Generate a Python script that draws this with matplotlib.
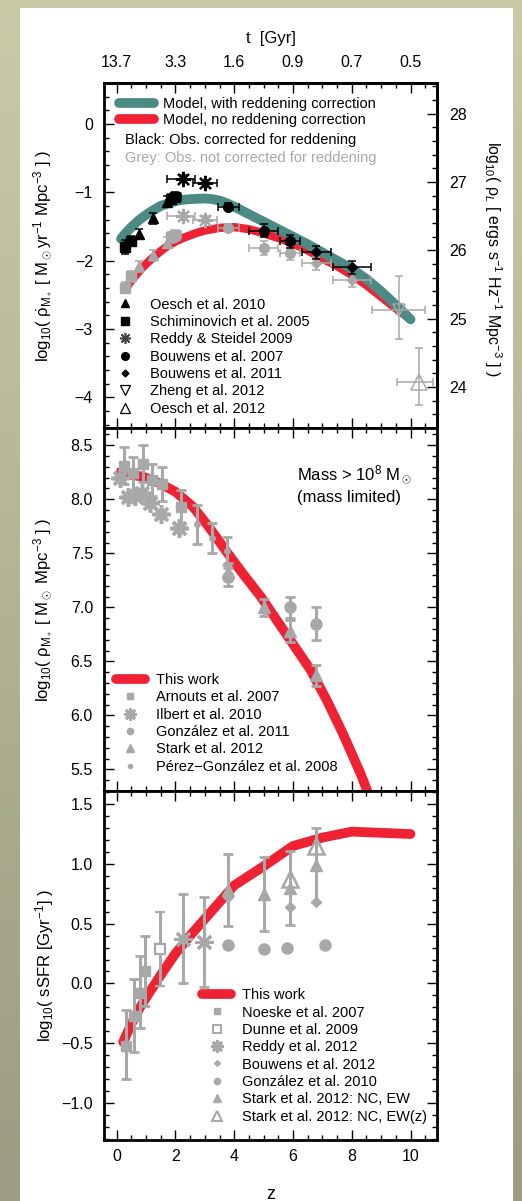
import numpy as np
import matplotlib.pyplot as plt
from matplotlib.lines import Line2D
from matplotlib.patches import Rectangle
from matplotlib.ticker import MultipleLocator
from matplotlib.colors import LinearSegmentedColormap

plt.rcParams['font.family'] = ['Liberation Sans', 'DejaVu Sans']
plt.rcParams['mathtext.fontset'] = 'custom'
plt.rcParams['mathtext.rm'] = 'Liberation Sans'
plt.rcParams['mathtext.it'] = 'Liberation Sans:italic'
plt.rcParams['mathtext.bf'] = 'Liberation Sans:bold'

TEAL = '#4b8a85'
RED = '#ee2233'
GREY = '#a8a8a8'

# ---- top panel: star formation rate density ----
z_teal = [0.15, 0.3, 0.5, 0.75, 1.0, 1.25, 1.5, 1.75, 2.0, 2.25, 2.5, 3.0, 3.25, 3.5, 3.75, 4.0,
          4.5, 5.0, 5.5, 6.0, 6.5, 7.0, 7.5, 8.0, 8.5, 9.0, 9.5, 10.0]
sfr_teal = [-1.68, -1.60, -1.51, -1.41, -1.33, -1.26, -1.20, -1.16, -1.13, -1.11, -1.10, -1.09,
            -1.10, -1.12, -1.16, -1.21, -1.32, -1.43, -1.54, -1.65, -1.76, -1.88, -2.00, -2.12,
            -2.27, -2.45, -2.65, -2.86]
z_red = [0.3, 0.45, 0.6, 0.8, 1.0, 1.25, 1.5, 1.75, 2.0, 2.25, 2.5, 2.75, 3.0, 3.25, 3.5, 4.0,
         4.5, 5.0, 5.5, 6.0, 6.5, 7.0, 7.5, 8.0, 8.5, 9.0, 9.5, 10.0]
sfr_red = [-2.42, -2.32, -2.24, -2.14, -2.05, -1.95, -1.86, -1.78, -1.72, -1.67, -1.63, -1.59,
           -1.56, -1.54, -1.52, -1.51, -1.54, -1.60, -1.67, -1.75, -1.85, -1.97, -2.08, -2.21,
           -2.36, -2.53, -2.70, -2.86]

oesch10_z = [0.75, 1.25, 1.72]
oesch10_corr = [-1.61, -1.38, -1.14]
oesch10_raw = [-2.08, -1.92, -1.74]
schim05_z = [0.27, 0.48, 1.85, 2.0]
schim05_corr = [-1.80, -1.71, -1.10, -1.07]
schim05_raw = [-2.40, -2.23, -1.66, -1.63]
reddy09_z = [2.27, 3.02]
reddy09_zlo = [0.57, 0.41]
reddy09_zhi = [0.40, 0.39]
reddy09_corr = [-0.80, -0.87]
reddy09_raw = [-1.35, -1.40]
bouw07_z = [3.8, 5.0, 5.9]
bouw07_zerr = [0.35, 0.5, 0.35]
bouw07_corr = [-1.21, -1.56, -1.72]
bouw07_raw = [-1.52, -1.82, -1.89]
bouw07_err = [0.05, 0.1, 0.1]
bouw11_z = [6.8, 8.0]
bouw11_zerr = [0.5, 0.65]
bouw11_corr = [-1.88, -2.10]
bouw11_raw = [-2.04, -2.29]
zheng12_z, zheng12_v = [9.6], [-2.73]
zheng12_verr = [[0.41], [0.51]]
zheng12_zerr = [[0.9], [0.9]]
oesch12_z, oesch12_v = [10.3], [-3.77]
oesch12_verr = [[0.34], [0.49]]
oesch12_zerr = [[0.75], [0.45]]

t_ticks = [0, 2, 4, 6, 8, 10]
t_labels = ['13.7', '3.3', '1.6', '0.9', '0.7', '0.5']

# ---- middle panel: stellar mass density ----
z_mass = [0.15, 0.9, 1.45, 2.0, 2.6, 3.15, 3.7, 4.3, 4.9, 5.45, 6.0, 6.6, 7.15, 7.7, 8.3, 8.6]
rho_mass = [8.24, 8.21, 8.15, 8.07, 7.93, 7.74, 7.53, 7.31, 7.10, 6.88, 6.66, 6.42, 6.14, 5.83, 5.46, 5.25]
arn_z = [0.25, 0.55, 0.88, 1.2, 1.55, 2.2]
arn_v = [8.31, 8.24, 8.33, 8.18, 8.14, 7.93]
arn_e = [0.17, 0.15, 0.17, 0.15, 0.16, 0.16]
ilb_z = [0.1, 0.38, 0.62, 0.85, 1.12, 1.5, 2.12]
ilb_v = [8.20, 8.02, 8.03, 8.06, 7.97, 7.86, 7.73]
gon11_z = [3.8, 5.9, 6.8]
gon11_v = [7.28, 7.00, 6.85]
gon11_e = [0.08, 0.1, 0.15]
stk_z = [3.8, 5.0, 5.9, 6.8]
stk_v = [7.33, 7.00, 6.78, 6.37]
stk_e = [0.08, 0.08, 0.1, 0.1]
pg_z = [2.75, 3.25, 3.75]
pg_v = [7.77, 7.64, 7.52]
pg_e = [0.18, 0.14, 0.13]

# ---- bottom panel: specific star formation rate ----
z_ssfr = [0.22, 0.5, 0.75, 1.0, 1.5, 2.0, 2.5, 3.0, 3.5, 4.0, 5.0, 6.0, 7.0, 8.0, 9.0, 10.0]
ssfr = [-0.49, -0.34, -0.22, -0.12, 0.07, 0.25, 0.40, 0.54, 0.68, 0.82, 0.98, 1.15, 1.22, 1.27, 1.26, 1.25]
noe_z = [0.31, 0.58, 0.79, 0.96]
noe_v = [-0.52, -0.27, -0.08, 0.10]
noe_e = [[0.28, 0.30, 0.29, 0.29], [0.30, 0.31, 0.31, 0.30]]
dun_z, dun_v, dun_e = [1.47], [0.29], [0.31]
red12_z = [2.27, 2.96]
red12_v = [0.37, 0.35]
red12_e = [[0.37, 0.38], [0.38, 0.37]]
bw12_z = [3.8, 5.9, 6.8]
bw12_v = [0.72, 0.64, 0.68]
gon10_z = [3.8, 5.0, 5.8, 7.1]
gon10_v = [0.32, 0.29, 0.30, 0.32]
stkew_z = [3.8, 5.0, 5.9, 6.8]
stkew_v = [0.78, 0.75, 0.80, 0.99]
stkew_e = [0.30, 0.31, 0.31, 0.31]
stkewz_z = [5.9, 6.8]
stkewz_v = [0.87, 1.15]

fig = plt.figure(figsize=(5.22, 12.01), dpi=100)

# page background
bg = fig.add_axes([0, 0, 1, 1], zorder=-10)
bg_cmap = LinearSegmentedColormap.from_list('bg', ['#9b9c81', '#c9cba7'])
bg.imshow(np.linspace(0, 1, 256).reshape(-1, 1), aspect='auto', cmap=bg_cmap,
          extent=[0, 1, 0, 1], origin='lower')
bg.axis('off')
fig.patches.append(Rectangle((20 / 522, 0), 493 / 522, 1193 / 1201, transform=fig.transFigure,
                             facecolor='white', edgecolor='none', zorder=-5))

L, W = 104 / 522, 333 / 522
ax1 = fig.add_axes([L, 1 - 428 / 1201, W, 345 / 1201])
ax2 = fig.add_axes([L, 1 - 791 / 1201, W, 363 / 1201])
ax3 = fig.add_axes([L, 1 - 1140 / 1201, W, 349 / 1201])

for ax in (ax1, ax2, ax3):
    ax.set_xlim(-0.43, 10.9)
    ax.xaxis.set_major_locator(MultipleLocator(2))
    ax.xaxis.set_minor_locator(MultipleLocator(0.5))
    ax.tick_params(which='both', direction='in', top=True, right=True, labelsize=11.5, width=1)
    ax.tick_params(which='major', length=7)
    ax.tick_params(which='minor', length=3.5)
    ax.tick_params(axis='y', pad=8)
    ax.tick_params(axis='x', pad=6.5)
    for sp in ax.spines.values():
        sp.set_linewidth(2)

# top panel
ax1.set_ylim(-4.45, 0.6)
ax1.yaxis.set_major_locator(MultipleLocator(1))
ax1.yaxis.set_minor_locator(MultipleLocator(0.2))
ax1.tick_params(which='both', right=False, top=False, labelbottom=False)
ax1.plot(z_red, sfr_red, color=RED, lw=6, solid_capstyle='round', solid_joinstyle='round', zorder=2)
ax1.plot(z_teal, sfr_teal, color=TEAL, lw=7, solid_capstyle='round', solid_joinstyle='round', zorder=3)

ekw = dict(elinewidth=1.1, capsize=3, capthick=1.1, ls='none')
ax1.errorbar(oesch10_z, oesch10_raw, yerr=0.08, fmt='^', color=GREY, ms=7, zorder=4, **ekw)
ax1.errorbar(schim05_z, schim05_raw, yerr=0.08, xerr=[[0, 0, 0.15, 0.1], [0, 0, 0.1, 0.2]],
             fmt='s', color=GREY, ms=7, zorder=4, **ekw)
ax1.errorbar(reddy09_z, reddy09_raw, yerr=0.05, xerr=[reddy09_zlo, reddy09_zhi],
             fmt='none', ecolor=GREY, zorder=4, **ekw)
ax1.plot(reddy09_z, reddy09_raw, ls='none', marker=(8, 2, 0), ms=11, mew=1.6, color=GREY, zorder=4)
ax1.errorbar(bouw07_z, bouw07_raw, yerr=bouw07_err, xerr=bouw07_zerr, fmt='o', color=GREY, ms=7, zorder=4, **ekw)
ax1.errorbar(bouw11_z, bouw11_raw, yerr=0.09, xerr=bouw11_zerr, fmt='D', color=GREY, ms=5, zorder=4, **ekw)
ax1.errorbar(zheng12_z, zheng12_v, yerr=zheng12_verr, xerr=zheng12_zerr, fmt='v', color=GREY,
             mfc='none', ms=8, mew=1.1, zorder=4, **ekw)
ax1.errorbar(oesch12_z, oesch12_v, yerr=oesch12_verr, xerr=oesch12_zerr, fmt='^', color=GREY,
             mfc='none', ms=11, mew=1.1, zorder=4, **ekw)

ax1.errorbar(oesch10_z, oesch10_corr, yerr=0.08, fmt='^', color='k', ms=7, zorder=5, **ekw)
ax1.errorbar(schim05_z, schim05_corr, yerr=[0.1, 0.07, 0.07, 0.07], xerr=[[0, 0, 0.15, 0.1], [0, 0, 0.1, 0.2]],
             fmt='s', color='k', ms=7, zorder=5, **ekw)
ax1.errorbar(reddy09_z, reddy09_corr, yerr=0.05, xerr=[reddy09_zlo, reddy09_zhi],
             fmt='none', ecolor='k', zorder=5, **ekw)
ax1.plot(reddy09_z, reddy09_corr, ls='none', marker=(8, 2, 0), ms=11, mew=1.6, color='k', zorder=5)
ax1.errorbar(bouw07_z, bouw07_corr, yerr=bouw07_err, xerr=bouw07_zerr, fmt='o', color='k', ms=7, zorder=5, **ekw)
ax1.errorbar(bouw11_z, bouw11_corr, yerr=0.09, xerr=bouw11_zerr, fmt='D', color='k', ms=5, zorder=5, **ekw)

ax1.set_ylabel(r'log$_{10}$( $\dot{\mathrm{\rho}}_{\mathrm{M}_\ast}$ [ M$_\odot$yr$^{-1}$ Mpc$^{-3}$ ] )',
               fontsize=12)
ax1.yaxis.set_label_coords(-0.145, 0.5)

top = ax1.secondary_xaxis('top')
top.set_xticks(t_ticks)
top.set_xticklabels(t_labels)
top.xaxis.set_minor_locator(MultipleLocator(0.5))
top.tick_params(which='both', direction='in', labelsize=11.5, width=1, pad=9)
top.tick_params(which='major', length=7)
top.tick_params(which='minor', length=3.5)
top.spines['top'].set_linewidth(2)
top.set_xlabel('t  [Gyr]', fontsize=12, labelpad=9)

lum = ax1.secondary_yaxis('right', functions=(lambda y: y + 27.85, lambda y: y - 27.85))
lum.yaxis.set_major_locator(MultipleLocator(1))
lum.yaxis.set_minor_locator(MultipleLocator(0.2))
lum.tick_params(which='both', direction='in', labelsize=11.5, width=1, pad=9)
lum.tick_params(which='major', length=7)
lum.tick_params(which='minor', length=3.5)
lum.spines['right'].set_linewidth(2)
ax1.text(1.135, 0.49, r'log$_{10}$( $\mathrm{\rho}_L$ [ ergs s$^{-1}$ Hz$^{-1}$ Mpc$^{-3}$ ] )',
         transform=ax1.transAxes, fontsize=11.5, rotation=-90, ha='left', va='center')

leg_kw = dict(frameon=False, fontsize=10.5, borderpad=0, borderaxespad=0, labelspacing=0.23)
model_leg = ax1.legend(handles=[Line2D([], [], color=TEAL, lw=7, solid_capstyle='round'),
                                Line2D([], [], color=RED, lw=7, solid_capstyle='round')],
                       labels=['Model, with reddening correction', 'Model, no reddening correction'],
                       loc='upper left', bbox_to_anchor=(0.045, 0.958), handlelength=2.4,
                       handletextpad=0.65, frameon=False, fontsize=10.5, borderpad=0,
                       borderaxespad=0, labelspacing=0.12)
ax1.add_artist(model_leg)
ax1.text(0.063, 0.835, 'Black: Obs. corrected for reddening', transform=ax1.transAxes,
         fontsize=10.5, va='center', color='k')
ax1.text(0.063, 0.783, 'Grey: Obs. not corrected for reddening', transform=ax1.transAxes,
         fontsize=10.5, va='center', color=GREY)

obs_handles = [
    Line2D([], [], ls='none', marker='^', color='k', ms=6),
    Line2D([], [], ls='none', marker='s', color='k', ms=5.5),
    Line2D([], [], ls='none', marker=(8, 2, 0), color='#444444', ms=8, mew=1.2),
    Line2D([], [], ls='none', marker='o', color='k', ms=5.5),
    Line2D([], [], ls='none', marker='D', color='k', ms=3.5),
    Line2D([], [], ls='none', marker='v', color='k', mfc='none', ms=6.5, mew=0.9),
    Line2D([], [], ls='none', marker='^', color='k', mfc='none', ms=6.5, mew=0.9),
]
obs_labels = ['Oesch et al. 2010', 'Schiminovich et al. 2005', 'Reddy & Steidel 2009',
              'Bouwens et al. 2007', 'Bouwens et al. 2011', 'Zheng et al. 2012', 'Oesch et al. 2012']
ax1.legend(handles=obs_handles, labels=obs_labels, loc='upper left', bbox_to_anchor=(0.041, 0.378),
           handlelength=1.0, handletextpad=1.25, **leg_kw)

# middle panel
ax2.set_ylim(5.3, 8.66)
ax2.yaxis.set_major_locator(MultipleLocator(0.5))
ax2.yaxis.set_minor_locator(MultipleLocator(0.1))
ax2.tick_params(labelbottom=False)
ax2.plot(z_mass, rho_mass, color=RED, lw=7, solid_joinstyle='round', zorder=2)
gkw = dict(ls='none', color=GREY, elinewidth=2.2, capsize=3.5, capthick=2)
ax2.errorbar(arn_z, arn_v, yerr=arn_e, fmt='s', ms=7, zorder=4, **gkw)
ax2.plot(ilb_z, ilb_v, ls='none', marker=(8, 2, 0), ms=13, mew=2.6, color=GREY, zorder=4)
ax2.errorbar(gon11_z, gon11_v, yerr=gon11_e, fmt='o', ms=8, zorder=4, **gkw)
ax2.errorbar(stk_z, stk_v, yerr=stk_e, fmt='^', ms=8.5, zorder=4, **gkw)
ax2.errorbar(pg_z, pg_v, yerr=pg_e, fmt='o', ms=4, zorder=4, **gkw)
ax2.set_ylabel(r'log$_{10}$( $\mathrm{\rho}_{\mathrm{M}_\ast}$ [ M$_\odot$ Mpc$^{-3}$ ] )', fontsize=12)
ax2.yaxis.set_label_coords(-0.145, 0.5)
ax2.text(0.58, 0.87, r'Mass > 10$^8$ M$_\odot$', transform=ax2.transAxes, fontsize=12, va='center')
ax2.text(0.58, 0.809, '(mass limited)', transform=ax2.transAxes, fontsize=12, va='center')

mass_handles = [
    Line2D([], [], color=RED, lw=7, solid_capstyle='round'),
    Line2D([], [], ls='none', marker='s', color=GREY, ms=4.5),
    Line2D([], [], ls='none', marker=(8, 2, 0), color=GREY, ms=9, mew=2),
    Line2D([], [], ls='none', marker='o', color=GREY, ms=4.5),
    Line2D([], [], ls='none', marker='^', color=GREY, ms=5.5),
    Line2D([], [], ls='none', marker='o', color=GREY, ms=3),
]
mass_labels = ['This work', 'Arnouts et al. 2007', 'Ilbert et al. 2010', 'González et al. 2011',
               'Stark et al. 2012', 'Pérez\u2212González et al. 2008']
ax2.legend(handles=mass_handles, labels=mass_labels, loc='upper left', bbox_to_anchor=(0.035, 0.325),
           handlelength=2.0, handletextpad=0.75, **leg_kw)

# bottom panel
ax3.set_ylim(-1.31, 1.61)
ax3.yaxis.set_major_locator(MultipleLocator(0.5))
ax3.yaxis.set_minor_locator(MultipleLocator(0.1))
ax3.plot(z_ssfr, ssfr, color=RED, lw=7, solid_capstyle='round', zorder=2)
ax3.errorbar(noe_z, noe_v, yerr=noe_e, fmt='s', ms=7, zorder=4, **gkw)
ax3.errorbar(dun_z, dun_v, yerr=dun_e, fmt='s', mfc='white', ms=7.5, mew=1.6, zorder=4, **gkw)
ax3.errorbar(red12_z, red12_v, yerr=red12_e, fmt='none', zorder=4, **gkw)
ax3.plot(red12_z, red12_v, ls='none', marker=(8, 2, 0), ms=13, mew=2.2, color=GREY, zorder=4)
ax3.errorbar(stkew_z, stkew_v, yerr=stkew_e, fmt='^', ms=8, zorder=4, **gkw)
ax3.plot(stkewz_z, stkewz_v, ls='none', marker='^', mfc='none', mec=GREY, ms=11, mew=1.8, zorder=4)
ax3.plot(bw12_z, bw12_v, ls='none', marker='D', color=GREY, ms=5, zorder=4)
ax3.plot(gon10_z, gon10_v, ls='none', marker='o', color=GREY, ms=8, zorder=4)
ax3.set_ylabel(r'log$_{10}$( sSFR [Gyr$^{-1}$] )', fontsize=12)
ax3.yaxis.set_label_coords(-0.145, 0.5)
ax3.set_xlabel('z', fontsize=13, labelpad=16)

ssfr_handles = [
    Line2D([], [], color=RED, lw=7, solid_capstyle='round'),
    Line2D([], [], ls='none', marker='s', color=GREY, ms=4.5),
    Line2D([], [], ls='none', marker='s', color=GREY, mfc='white', ms=5.5, mew=1.4),
    Line2D([], [], ls='none', marker=(8, 2, 0), color=GREY, ms=9, mew=2),
    Line2D([], [], ls='none', marker='D', color=GREY, ms=3),
    Line2D([], [], ls='none', marker='o', color=GREY, ms=4.5),
    Line2D([], [], ls='none', marker='^', color=GREY, ms=5.5),
    Line2D([], [], ls='none', marker='^', color=GREY, mfc='none', ms=7.5, mew=1.5),
]
ssfr_labels = ['This work', 'Noeske et al. 2007', 'Dunne et al. 2009', 'Reddy et al. 2012',
               'Bouwens et al. 2012', 'González et al. 2010', 'Stark et al. 2012: NC, EW',
               'Stark et al. 2012: NC, EW(z)']
ax3.legend(handles=ssfr_handles, labels=ssfr_labels, loc='upper left', bbox_to_anchor=(0.295, 0.435),
           handlelength=2.0, handletextpad=0.75, **leg_kw)

fig.savefig('out.png', dpi=100)
